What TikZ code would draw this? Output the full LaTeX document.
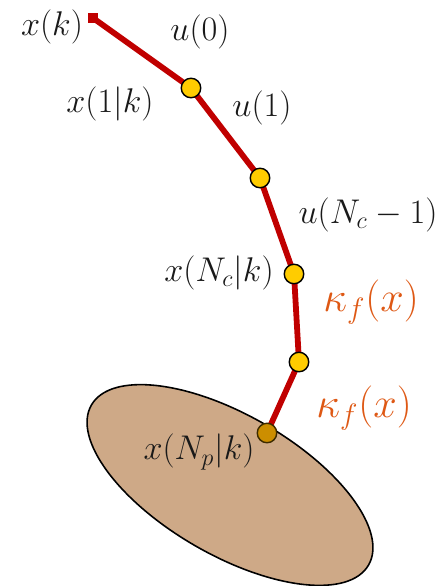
\RequirePackage{fix-cm}
\documentclass[tikz,border=0pt]{standalone}
\usepackage{amsmath, amssymb}
\usepackage{xcolor}
\usepackage{tikz}
\usetikzlibrary{shapes.geometric}

\definecolor{trajred}{RGB}{192,0,0}
\definecolor{ptyellow}{RGB}{255,204,0}
\definecolor{ptgold}{RGB}{204,142,0}
\definecolor{setfill}{RGB}{206,169,135}
\definecolor{ctrlorange}{RGB}{222,88,20}
\definecolor{labelgray}{RGB}{25,25,25}

\begin{document}
\begin{tikzpicture}[
  every node/.style={font=\fontsize{19.5}{23}\selectfont, text=labelgray},
  traj/.style={draw=trajred, line width=3.3pt, line join=round},
  statept/.style={circle, draw=black, fill=ptyellow, line width=0.8pt,
    minimum size=0.39cm, inner sep=0pt},
  finalpt/.style={circle, draw=black!70!ptgold, fill=ptgold, line width=0.8pt,
    minimum size=0.39cm, inner sep=0pt},
  startpt/.style={rectangle, fill=trajred, minimum size=0.2cm, inner sep=0pt},
  termset/.style={ellipse, draw=black, fill=setfill, line width=0.9pt,
    minimum width=6.4cm, minimum height=2.8cm},
  ctrl/.style={font=\fontsize{24}{28}\selectfont, text=ctrlorange}
]
  \useasboundingbox (0,0) rectangle (8.96,-11.72);

  % Terminal set
  \node[termset, rotate=-30] (terminal) at (4.60,-9.70) {};

  % Predicted states
  \coordinate (c0) at (1.86,-0.36);
  \coordinate (c1) at (3.82,-1.76);
  \coordinate (c2) at (5.20,-3.56);
  \coordinate (c3) at (5.88,-5.48);
  \coordinate (c4) at (5.98,-7.24);
  \coordinate (c5) at (5.34,-8.66);
  \draw[traj] (c0) -- (c1) -- (c2) -- (c3) -- (c4) -- (c5);

  \node[startpt] (s0) at (c0) {};
  \node[statept] (p1) at (c1) {};
  \node[statept] (p2) at (c2) {};
  \node[statept] (p3) at (c3) {};
  \node[statept] (p4) at (c4) {};
  \node[finalpt] (p5) at (c5) {};

  % State labels
  \node (xk) at (1.04,-0.54) {$x(k)$};
  \node (x1k) at (2.20,-2.08) {$x(1|k)$};
  \node (xnck) at (4.38,-5.46) {$x(N_c|k)$};
  \node (xnpk) at (3.98,-9.04) {$x(N_p|k)$};

  % Inputs
  \node (u0) at (4.00,-0.64) {$u(0)$};
  \node (u1) at (5.24,-2.16) {$u(1)$};
  \node (unc) at (7.36,-4.30) {$u(N_c-1)$};
  \node[ctrl] (kf1) at (7.42,-6.04) {$\kappa_f(x)$};
  \node[ctrl] (kf2) at (7.28,-8.16) {$\kappa_f(x)$};
\end{tikzpicture}
\end{document}
